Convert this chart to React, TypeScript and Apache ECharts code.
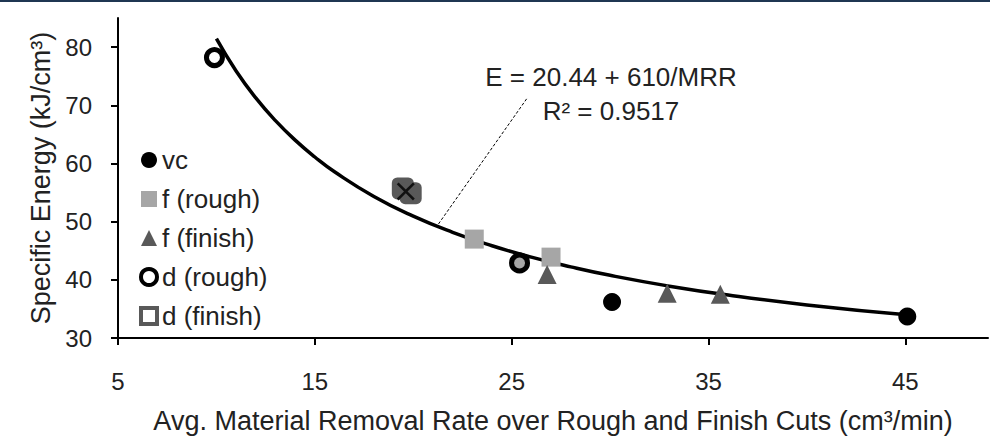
import React, { useEffect, useRef } from "react";
import * as echarts from "echarts";

const FONT = "'Liberation Sans', Arial, sans-serif";

// tick values
const xTicks = [5, 15, 25, 35, 45];
const yTicks = [30, 40, 50, 60, 70, 80];

// measured points
const vcX = [30.1, 45.1];
const vcY = [36.2, 33.7];
const fRoughX = [23.1, 27.0];
const fRoughY = [47.0, 43.9];
const fFinishX = [26.8, 32.9, 35.6];
const fFinishY = [40.9, 37.7, 37.5];
const dRoughX = [9.9, 25.4];
const dRoughY = [78.2, 42.9];
const dFinishX = [19.47, 19.87];
const dFinishY = [55.7, 54.9];
const crossX = [19.62];
const crossY = [55.2];

// trend line E = 20.44 + 610/MRR
const trendX = [10, 11, 12, 13, 14, 15, 16, 18, 20, 22, 24, 26, 28, 30, 33, 36, 40, 45.2];
const trendY = [81.44, 75.89, 71.27, 67.36, 64.01, 61.11, 58.57, 54.33, 50.94, 48.17, 45.86, 43.9, 42.23, 40.77, 38.92, 37.38, 35.69, 33.94];

// annotation leader line
const leaderX = [25.76, 21.24];
const leaderY = [71.1, 49.4];

const zip = (xs: number[], ys: number[]) => xs.map((x, i) => [x, ys[i]]);

const X_PATH =
  "path://M1.6,0 L8,6.4 L14.4,0 L16,1.6 L9.6,8 L16,14.4 L14.4,16 L8,9.6 L1.6,16 L0,14.4 L6.4,8 L0,1.6 Z";

export default function App() {
  const ref = useRef<HTMLDivElement>(null);
  useEffect(() => {
    if (!ref.current) return;
    const chart = echarts.init(ref.current, undefined, { renderer: "svg" });
    chart.setOption({
      animation: false,
      backgroundColor: "#ffffff",
      textStyle: { fontFamily: FONT },
      grid: { left: 118, right: 2, top: 18, bottom: 98, containLabel: false, outerBoundsMode: "none" },
      xAxis: {
        type: "value",
        min: 5,
        max: 49.2,
        name: "Avg. Material Removal Rate over Rough and Finish Cuts (cm³/min)",
        nameLocation: "middle",
        nameGap: 69,
        nameTextStyle: { fontSize: 27, color: "#222", fontFamily: FONT },
        splitLine: { show: false },
        axisLine: { lineStyle: { color: "#000", width: 2 } },
        axisTick: { show: true, length: 7, customValues: xTicks, lineStyle: { color: "#000", width: 2 } },
        axisLabel: { customValues: xTicks, fontSize: 24, color: "#222", margin: 31, fontFamily: FONT },
      },
      yAxis: {
        type: "value",
        min: 30,
        max: 85,
        name: "Specific Energy (kJ/cm³)",
        nameLocation: "middle",
        nameRotate: 90,
        nameGap: 64,
        nameTextStyle: { fontSize: 27, color: "#222", fontFamily: FONT },
        splitLine: { show: false },
        axisLine: { show: true, lineStyle: { color: "#000", width: 2 } },
        axisTick: { show: true, length: 7, customValues: yTicks, lineStyle: { color: "#000", width: 2 } },
        axisLabel: { customValues: yTicks, fontSize: 24, color: "#222", margin: 26, fontFamily: FONT },
      },
      legend: {
        orient: "vertical",
        left: 134,
        top: 142,
        itemGap: 13,
        itemWidth: 16,
        itemHeight: 16,
        textStyle: { fontSize: 26, color: "#222", fontFamily: FONT },
        data: [
          { name: "vc", icon: "circle", itemStyle: { color: "#000" } },
          { name: "f (rough)", icon: "rect", itemStyle: { color: "#a6a6a6" } },
          { name: "f (finish)", icon: "triangle", itemStyle: { color: "#595959" } },
          { name: "d (rough)", icon: "circle", itemStyle: { color: "#fff", borderColor: "#000", borderWidth: 4 } },
          { name: "d (finish)", icon: "rect", itemStyle: { color: "#fff", borderColor: "#595959", borderWidth: 4 } },
        ],
      },
      graphic: [
        { type: "rect", shape: { x: 0, y: 0, width: 990, height: 2 }, style: { fill: "#1f3652" } },
        {
          type: "text",
          x: 611,
          y: 77,
          style: { text: "E = 20.44 + 610/MRR", font: `26px ${FONT}`, fill: "#222", textAlign: "center", textVerticalAlign: "middle" },
        },
        {
          type: "text",
          x: 611,
          y: 111,
          style: { text: "R² = 0.9517", font: `26px ${FONT}`, fill: "#222", textAlign: "center", textVerticalAlign: "middle" },
        },
      ],
      series: [
        {
          name: "trend",
          type: "line",
          data: zip(trendX, trendY),
          smooth: true,
          showSymbol: false,
          lineStyle: { color: "#000", width: 3.5 },
          z: 1,
          silent: true,
        },
        {
          name: "leader",
          type: "line",
          data: zip(leaderX, leaderY),
          showSymbol: false,
          lineStyle: { color: "#000", width: 1, type: [3, 2] },
          z: 1,
          silent: true,
        },
        {
          name: "d (finish)",
          type: "scatter",
          symbol: "roundRect",
          symbolSize: 22,
          data: zip(dFinishX, dFinishY),
          itemStyle: { color: "#595959", opacity: 1 },
          z: 3,
        },
        {
          name: "cross",
          type: "scatter",
          symbol: X_PATH,
          symbolSize: 18,
          data: zip(crossX, crossY),
          itemStyle: { color: "#111", opacity: 1 },
          z: 4,
        },
        {
          name: "f (rough)",
          type: "scatter",
          symbol: "rect",
          symbolSize: 19,
          data: zip(fRoughX, fRoughY),
          itemStyle: { color: "#a6a6a6", opacity: 1 },
          z: 3,
        },
        {
          name: "f (finish)",
          type: "scatter",
          symbol: "triangle",
          symbolSize: 19,
          data: zip(fFinishX, fFinishY),
          itemStyle: { color: "#595959", opacity: 1 },
          z: 3,
        },
        {
          name: "vc",
          type: "scatter",
          symbol: "circle",
          symbolSize: 18,
          data: zip(vcX, vcY),
          itemStyle: { color: "#000", opacity: 1 },
          z: 3,
        },
        {
          name: "d (rough)",
          type: "scatter",
          symbol: "circle",
          symbolSize: 16,
          data: zip(dRoughX, dRoughY).map((p, i) => ({
            value: p,
            itemStyle: { color: i === 1 ? "#a6a6a6" : "#fff" },
          })),
          itemStyle: { borderColor: "#000", borderWidth: 5, opacity: 1 },
          z: 4,
        },
      ],
    });
    return () => chart.dispose();
  }, []);
  return (
    <div
      style={{ position: "fixed", left: 0, top: 0, width: 990, height: 436, background: "#fff", overflow: "hidden" }}
    >
      <div ref={ref} style={{ width: 990, height: 436 }} />
    </div>
  );
}
